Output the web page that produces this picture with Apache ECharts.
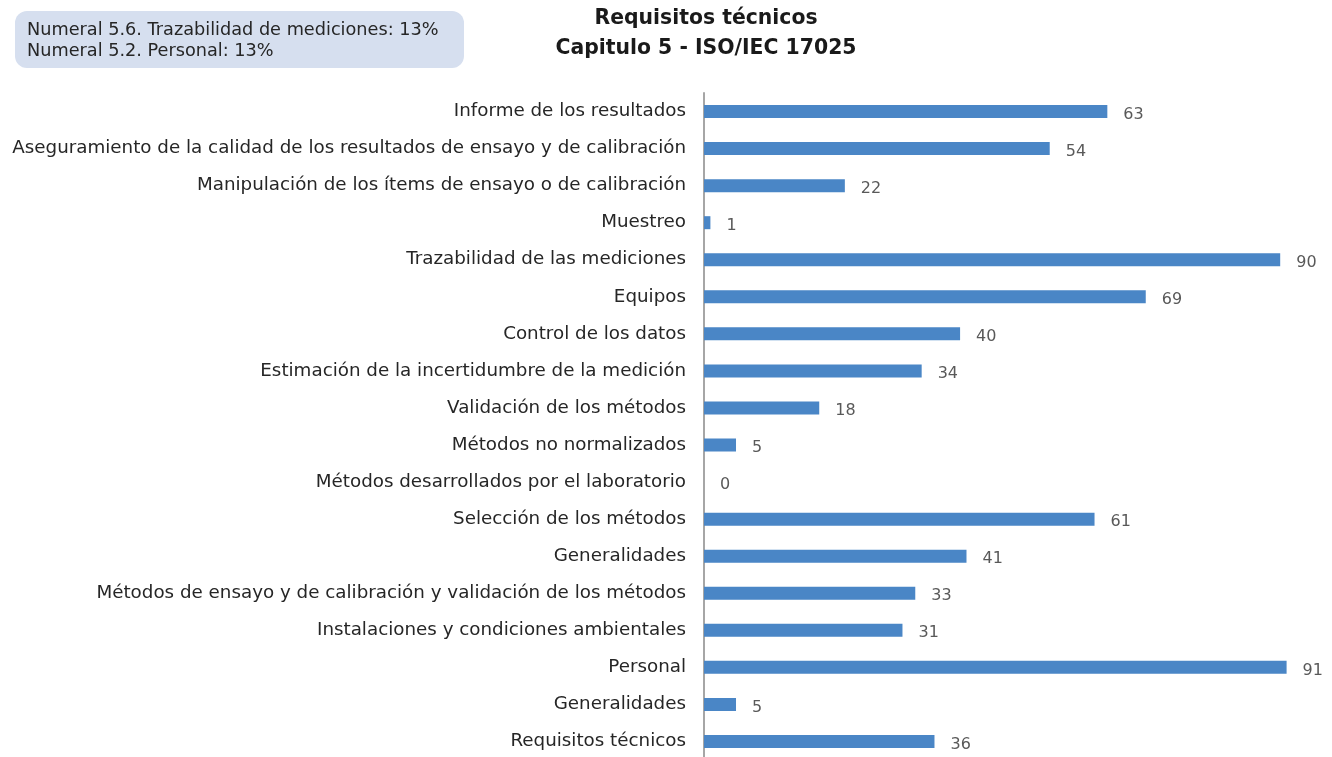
<!DOCTYPE html>
<html lang="es">
<head>
    <meta charset="UTF-8">
    <title>Requisitos técnicos</title>
    <style>
        html, body { margin: 0; padding: 0; overflow: hidden; background: #fff; }
        #chart { width: 1332px; height: 760px; }
    </style>
</head>
<body>
<div id="chart"></div>
<script src="https://cdn.jsdelivr.net/npm/echarts@6/dist/echarts.min.js"></script>
<script>
    // categorias de arriba hacia abajo
    var categories = [
        'Informe de los resultados',
        'Aseguramiento de la calidad de los resultados de ensayo y de calibración',
        'Manipulación de los ítems de ensayo o de calibración',
        'Muestreo',
        'Trazabilidad de las mediciones',
        'Equipos',
        'Control de los datos',
        'Estimación de la incertidumbre de la medición',
        'Validación de los métodos',
        'Métodos no normalizados',
        'Métodos desarrollados por el laboratorio',
        'Selección de los métodos',
        'Generalidades',
        'Métodos de ensayo y de calibración y validación de los métodos',
        'Instalaciones y condiciones ambientales',
        'Personal',
        'Generalidades',
        'Requisitos técnicos'
    ];
    var values = [63, 54, 22, 1, 90, 69, 40, 34, 18, 5, 0, 61, 41, 33, 31, 91, 5, 36];
    var titleLines = ['Requisitos técnicos', 'Capitulo 5 - ISO/IEC 17025'];
    var noteLines = ['Numeral 5.6. Trazabilidad de mediciones: 13%', 'Numeral 5.2. Personal: 13%'];

    var font = '"DejaVu Sans", sans-serif';
    var chart = echarts.init(document.getElementById('chart'));

    chart.setOption({
        animation: false,
        grid: { left: 704, right: 39, top: 93, bottom: 0, containLabel: false },
        xAxis: {
            type: 'value', min: 0, max: 92, show: false
        },
        yAxis: {
            type: 'category',
            inverse: true,
            data: categories,
            axisLine: { show: true, lineStyle: { color: '#a6a6a6', width: 2 } },
            axisTick: { show: false },
            axisLabel: {
                color: '#262626', fontSize: 18.3, fontFamily: font, margin: 18,
                padding: [4, 0, 0, 0]
            }
        },
        series: [{
            type: 'bar',
            data: values,
            barWidth: 13,
            itemStyle: { color: '#4a86c6' },
            label: {
                show: true, position: 'right', distance: 16,
                color: '#595959', fontSize: 16, fontFamily: font, offset: [0, 3]
            }
        }],
        graphic: [
            {
                type: 'rect', left: 15, top: 11,
                shape: { width: 449, height: 57, r: 12 },
                style: { fill: '#d6dfef' }
            },
            {
                type: 'text', left: 27, top: 20,
                style: { text: noteLines.join('\n'), fill: '#262626', font: '17.7px ' + font, lineHeight: 21 }
            },
            {
                type: 'text', x: 706, y: 4,
                style: {
                    text: titleLines.join('\n'), fill: '#1a1a1a', align: 'center',
                    font: 'bold 20.4px ' + font, lineHeight: 30
                }
            }
        ]
    });
</script>
</body>
</html>
